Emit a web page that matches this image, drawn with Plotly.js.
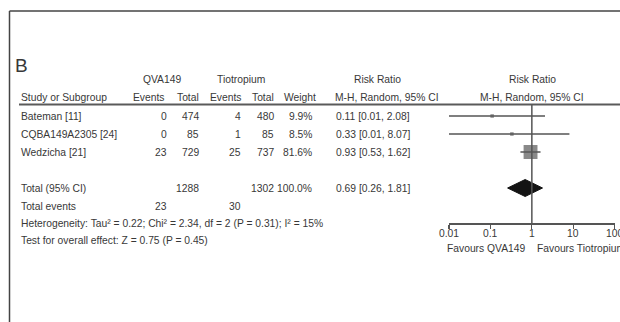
<!DOCTYPE html>
<html>
<head>
<meta charset="utf-8">
<script src="https://cdn.plot.ly/plotly-3.0.1.min.js"></script>
<style>
  html, body { margin: 0; padding: 0; background: #fff; }
  #chart { width: 620px; height: 322px; }
</style>
</head>
<body>
<div id="chart"></div>
<script>
// Study-level data (QVA149 vs tiotropium, risk ratio, M-H random effects)
const studies   = ["Bateman [11]", "CQBA149A2305 [24]", "Wedzicha [21]"];
const qvaEvents = [0, 0, 23];
const qvaTotal  = [474, 85, 729];
const tioEvents = [4, 1, 25];
const tioTotal  = [480, 85, 737];
const weights   = [9.9, 8.5, 81.6];
const rr        = [0.11, 0.33, 0.93];
const rrLow     = [0.01, 0.01, 0.53];
const rrHigh    = [2.08, 8.07, 1.62];

// Pooled result
const totalQva       = 1288;
const totalTio       = 1302;
const totalWeight    = 100.0;
const pooledRR       = [0.69];
const pooledLow      = [0.26];
const pooledHigh     = [1.81];
const totalEventsQva = 23;
const totalEventsTio = 30;

const heterogeneityText = "Heterogeneity: Tau² = 0.22; Chi² = 2.34, df = 2 (P = 0.31); I² = 15%";
const overallEffectText = "Test for overall effect: Z = 0.75 (P = 0.45)";

const tickVals   = [0.01, 0.1, 1, 10, 100];
const tickLabels = ["0.01", "0.1", "1", "10", "100"];

// ---- layout geometry (pixels) ----
const W = 620, H = 322;
const FONT = "'Liberation Sans', Arial, sans-serif";
const FS = 10.3;
const INK = "#383838";
const LINE = "#555555";

const studyRows  = [116, 134, 152];
const totalRow   = 188;
const eventsRow  = 206;
const hetRow     = 223;
const testRow    = 240;
const headRow1   = 79;
const headRow2   = 97;
const ruleY      = 104.5;
const axisY      = 223;
const tickLabelY = 233;
const favoursY   = 248;

const colQvaEv = 169, colQvaTot = 201, colTioEv = 243, colTioTot = 276, colWeight = 314, colCI = 334;
const plotLeft = 449, plotRight = 614.7;

const fmt2 = v => v.toFixed(2);
const ciText = (m, l, h) => `${fmt2(m)} [${fmt2(l)}, ${fmt2(h)}]`;

const ann = [];
function txt(text, x, y, anchor, size, extra) {
  ann.push(Object.assign({
    text: text, x: x / W, xref: "paper", y: y, yref: "y",
    xanchor: anchor, yanchor: "middle", showarrow: false,
    font: { family: FONT, size: size || FS, color: INK }
  }, extra || {}));
}

// panel letter
txt("B", 13, 65, "left", 19);

// column headers
txt("QVA149", 162, headRow1, "center");
txt("Tiotropium", 241, headRow1, "center");
txt("Risk Ratio", 377, headRow1, "center");
txt("Risk Ratio", 532, headRow1, "center");

txt("Study or Subgroup", 19, headRow2, "left");
txt("Events", colQvaEv - 3, headRow2, "right");
txt("Total", colQvaTot, headRow2, "right");
txt("Events", colTioEv, headRow2, "right");
txt("Total", colTioTot, headRow2, "right");
txt("Weight", colWeight + 4, headRow2, "right");
txt("M-H, Random, 95% CI", colCI - 1, headRow2, "left");
txt("M-H, Random, 95% CI", 532, headRow2, "center");

// study rows
studies.forEach((s, i) => {
  const y = studyRows[i];
  txt(s, 19, y, "left");
  txt(String(qvaEvents[i]), colQvaEv, y, "right");
  txt(String(qvaTotal[i]), colQvaTot, y, "right");
  txt(String(tioEvents[i]), colTioEv, y, "right");
  txt(String(tioTotal[i]), colTioTot, y, "right");
  txt(weights[i].toFixed(1) + "%", colWeight, y, "right");
  txt(ciText(rr[i], rrLow[i], rrHigh[i]), colCI, y, "left");
});

// pooled rows
txt("Total (95% CI)", 19, totalRow, "left");
txt(String(totalQva), colQvaTot, totalRow, "right");
txt(String(totalTio), colTioTot, totalRow, "right");
txt(totalWeight.toFixed(1) + "%", colWeight, totalRow, "right");
txt(ciText(pooledRR[0], pooledLow[0], pooledHigh[0]), colCI, totalRow, "left");

txt("Total events", 19, eventsRow, "left");
txt(String(totalEventsQva), colQvaEv, eventsRow, "right");
txt(String(totalEventsTio), colTioEv, eventsRow, "right");
txt(heterogeneityText, 19, hetRow, "left");
txt(overallEffectText, 19, testRow, "left");

// axis tick labels, placed on the log axis (annotation x is in log10 units)
tickVals.forEach((v, i) => {
  ann.push({
    text: tickLabels[i], x: Math.log10(v), xref: "x", y: tickLabelY, yref: "y",
    xanchor: "center", yanchor: "middle", showarrow: false,
    font: { family: FONT, size: FS, color: INK }
  });
});

// favours labels under the axis
txt("Favours QVA149", 527, favoursY, "right");
txt("Favours Tiotropium", 535, favoursY, "left");

// ---- traces ----
const ciX = [], ciY = [];
studies.forEach((s, i) => {
  ciX.push(rrLow[i], rrHigh[i], null);
  ciY.push(studyRows[i], studyRows[i], null);
});

const ciTrace = {
  type: "scatter", mode: "lines", x: ciX, y: ciY,
  line: { color: LINE, width: 1.5 }, hoverinfo: "skip", showlegend: false
};

const boxTrace = {
  type: "scatter", mode: "markers", x: rr, y: studyRows,
  marker: {
    symbol: "square", color: "#575757",
    size: weights.map(w => Math.max(3.5, 17 * w / 100)),
    line: { width: 0 }
  },
  showlegend: false
};

const dHalf = 8.5;
const diamondTrace = {
  type: "scatter", mode: "lines", fill: "toself",
  x: [pooledLow[0], pooledRR[0], pooledHigh[0], pooledRR[0], pooledLow[0]],
  y: [totalRow, totalRow - dHalf, totalRow, totalRow + dHalf, totalRow],
  fillcolor: "#141414", line: { color: "#141414", width: 1 },
  showlegend: false
};

const axisCommon = {
  type: "log", range: [Math.log10(0.01), Math.log10(100)],
  domain: [plotLeft / W, plotRight / W],
  anchor: "free", position: 1 - axisY / H,
  tickvals: tickVals, showticklabels: false,
  tickwidth: 1.3, tickcolor: LINE,
  showgrid: false, zeroline: false
};

const layout = {
  width: W, height: H,
  margin: { l: 0, r: 0, t: 0, b: 0 },
  paper_bgcolor: "#ffffff", plot_bgcolor: "rgba(0,0,0,0)",
  showlegend: false,
  xaxis: Object.assign({}, axisCommon, {
    ticks: "outside", ticklen: 4,
    showline: true, linecolor: LINE, linewidth: 1.5
  }),
  // upper half of the crossing tick marks
  xaxis2: Object.assign({}, axisCommon, {
    overlaying: "x", matches: "x", ticks: "inside", ticklen: 3, showline: false
  }),
  yaxis: {
    range: [H, 0], domain: [0, 1], visible: false,
    showgrid: false, zeroline: false, fixedrange: true
  },
  shapes: [
    // frame (top and left edges)
    { type: "line", xref: "paper", yref: "y", x0: 9.5 / W, x1: 1, y0: 11, y1: 11,
      line: { color: "#444", width: 1.5 } },
    { type: "line", xref: "paper", yref: "y", x0: 9.5 / W, x1: 9.5 / W, y0: 11, y1: H,
      line: { color: "#444", width: 1.5 } },
    // rule under the header
    { type: "line", xref: "paper", yref: "y", x0: 19 / W, x1: 1, y0: ruleY, y1: ruleY,
      line: { color: "#5a5a5a", width: 2 } },
    // line of no effect
    { type: "line", xref: "x", yref: "y", x0: 1, x1: 1, y0: ruleY, y1: axisY,
      line: { color: LINE, width: 1.5 } }
  ],
  annotations: ann
};

Plotly.newPlot("chart", [ciTrace, boxTrace, diamondTrace], layout,
  { displayModeBar: false, staticPlot: true });
</script>
</body>
</html>
